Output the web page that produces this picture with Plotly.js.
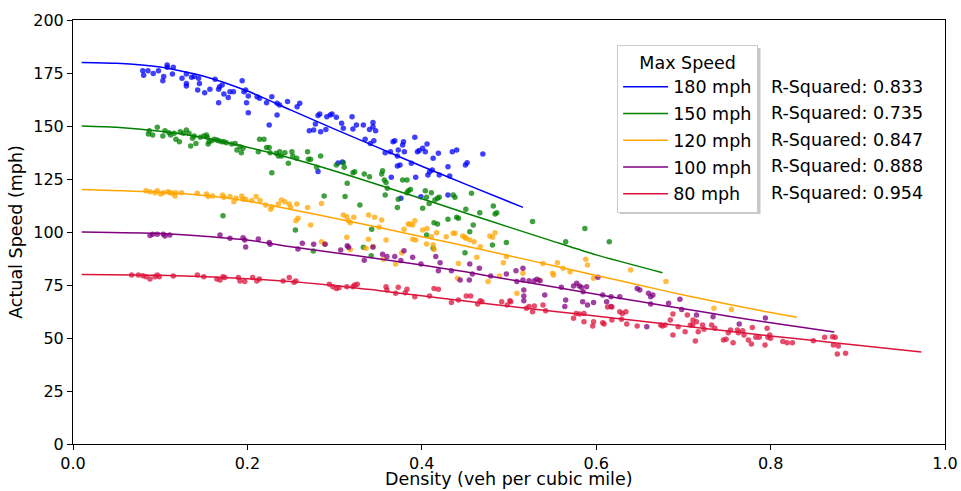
<!DOCTYPE html>
<html>
<head>
<meta charset="utf-8">
<script src="https://cdn.plot.ly/plotly-3.0.1.min.js"></script>
<style>html,body{margin:0;padding:0;background:#fff;}#chart{width:961px;height:491px;}</style>
</head>
<body>
<div id="chart"></div>
<script>
// ---- Data ----
const seriesNames = ["180 mph", "150 mph", "120 mph", "100 mph", "80 mph"];
const rSquared = ["0.833", "0.735", "0.847", "0.888", "0.954"];
const seriesColors = ["#0000ff", "#008000", "#ffa500", "#800080", "#dc143c"];
const xTitle = "Density (veh per cubic mile)";
const yTitle = "Actual Speed (mph)";

const blueDots = [
[0.080,176.1],[0.081,173.9],[0.086,176.1],[0.092,174.8],[0.098,176.1],[0.103,171.4],[0.104,173.3],[0.108,178.8],
[0.108,177.7],[0.115,177.7],[0.114,174.5],[0.125,172.5],[0.130,174.5],[0.130,170.1],[0.130,168.9],[0.136,173.0],
[0.139,173.3],[0.144,172.5],[0.145,170.1],[0.143,167.0],[0.151,165.7],[0.157,167.3],[0.163,172.0],[0.167,167.3],
[0.168,168.5],[0.171,169.3],[0.167,161.0],[0.173,165.1],[0.178,163.4],[0.180,166.2],[0.184,166.2],[0.194,171.4],
[0.196,166.2],[0.198,167.0],[0.201,164.2],[0.199,161.0],[0.201,156.3],[0.211,163.8],[0.214,163.1],[0.222,161.0],
[0.225,150.5],[0.228,163.8],[0.234,160.7],[0.234,155.2],[0.237,159.9],[0.246,161.5],[0.257,159.1],[0.260,160.7],
[0.271,147.8],[0.276,148.1],[0.278,150.9],[0.281,155.0],[0.283,155.7],[0.284,147.3],[0.290,148.4],[0.291,154.4],
[0.295,155.2],[0.297,155.7],[0.302,154.1],[0.308,151.3],[0.310,148.9],[0.320,154.4],[0.321,148.6],[0.325,150.5],
[0.333,150.5],[0.340,148.4],[0.281,128.5],[0.304,132.5],[0.309,133.0],[0.344,151.6],[0.344,149.7],[0.347,147.8],
[0.335,143.7],[0.341,141.8],[0.345,143.1],[0.358,137.4],[0.364,137.9],[0.367,142.6],[0.369,143.1],[0.373,138.7],
[0.379,142.6],[0.378,141.0],[0.380,137.9],[0.372,135.8],[0.372,131.1],[0.375,131.6],[0.388,132.4],[0.392,144.7],
[0.395,137.9],[0.397,138.4],[0.401,139.5],[0.404,137.9],[0.406,141.5],[0.413,134.8],[0.419,137.1],[0.393,125.8],
[0.407,126.9],[0.409,128.4],[0.412,129.2],[0.420,126.9],[0.430,130.8],[0.432,126.4],[0.435,137.9],[0.440,138.7],
[0.450,131.6],[0.452,132.7],[0.470,136.8],[0.376,115.9],[0.430,117.5],[0.365,125.8],[0.399,116.6]
];
const greenDots = [
[0.0875,147.8],[0.0864,146.2],[0.0914,145.8],[0.0967,149.4],[0.103,145.3],[0.1055,147.8],[0.110,146.8],[0.112,145.8],
[0.116,146.6],[0.118,143.7],[0.122,142.6],[0.123,147.3],[0.1265,146.6],[0.130,148.1],[0.133,146.6],[0.135,140.6],
[0.137,144.2],[0.139,145.3],[0.141,141.8],[0.146,144.7],[0.150,145.3],[0.153,145.8],[0.154,144.7],[0.156,142.6],
[0.155,141.5],[0.159,143.1],[0.162,143.7],[0.165,143.4],[0.167,143.1],[0.1705,142.6],[0.173,142.6],[0.176,142.1],
[0.182,141.5],[0.186,141.8],[0.188,138.7],[0.1915,140.2],[0.193,137.4],[0.195,139.5],[0.2125,137.9],[0.214,143.7],
[0.219,143.7],[0.222,139.9],[0.225,139.9],[0.226,137.4],[0.228,128.0],[0.233,137.1],[0.2355,135.8],[0.237,137.9],
[0.239,135.8],[0.243,137.4],[0.247,132.4],[0.251,137.9],[0.252,135.8],[0.2565,134.8],[0.269,137.9],[0.270,134.3],
[0.2725,134.3],[0.2795,130.5],[0.284,135.8],[0.288,117.0],[0.302,131.6],[0.310,132.7],[0.311,130.5],[0.312,116.7],
[0.3145,123.0],[0.321,128.0],[0.323,128.4],[0.329,112.7],[0.334,127.4],[0.340,126.1],[0.172,107.7],
[0.355,128.9],[0.354,127.4],[0.357,124.5],[0.359,123.3],[0.3605,120.6],[0.358,117.5],[0.373,115.4],[0.372,111.6],
[0.378,124.5],[0.383,124.5],[0.3845,119.5],[0.387,120.1],[0.383,118.5],[0.401,111.2],[0.404,119.5],[0.4055,116.4],
[0.411,118.5],[0.4085,113.5],[0.415,115.1],[0.418,115.9],[0.420,116.4],[0.430,106.0],[0.436,117.5],[0.438,116.4],
[0.440,106.9],[0.442,106.5],[0.4505,110.7],[0.457,118.3],[0.459,103.3],[0.455,100.1],[0.4665,109.1],[0.482,112.3],
[0.484,108.5],[0.486,109.1],[0.497,95.0],[0.481,93.9],[0.527,104.9],[0.565,95.4],[0.4055,98.6],[0.414,104.4],
[0.418,103.8],[0.413,92.3],[0.4495,90.2],[0.255,100.9],[0.3425,101.3],[0.333,92.8],[0.587,101.7],[0.615,95.4],
[0.2756,91.0],[0.342,88.8]
];
const orangeDots = [
[0.0837,119.5],[0.0883,119.0],[0.094,118.5],[0.0967,119.5],[0.1005,117.9],[0.1036,118.5],[0.109,119.0],[0.111,118.5],
[0.114,118.3],[0.117,117.0],[0.118,118.5],[0.1245,118.5],[0.1425,118.3],[0.153,117.9],[0.155,116.7],[0.160,117.0],
[0.1715,117.5],[0.173,116.4],[0.180,116.7],[0.1845,114.3],[0.187,115.9],[0.1935,117.0],[0.195,115.4],[0.198,115.4],
[0.205,114.8],[0.210,116.7],[0.2145,114.8],[0.221,112.7],[0.228,111.9],[0.2267,110.7],[0.2355,113.2],[0.239,115.1],
[0.243,114.3],[0.248,113.2],[0.2497,111.6],[0.2565,113.2],[0.258,106.5],[0.2557,105.3],[0.269,111.6],[0.2725,103.3],
[0.285,113.5],[0.310,108.0],[0.314,107.2],[0.316,105.3],[0.318,104.4],[0.322,106.9],[0.339,108.0],
[0.285,95.4],[0.289,94.3],[0.314,97.5],[0.318,91.8],[0.336,92.3],[0.3387,96.6],
[0.344,93.1],[0.346,106.9],[0.351,102.2],[0.354,105.7],[0.356,87.1],[0.359,96.2],[0.370,84.9],[0.377,90.2],
[0.3796,101.3],[0.3845,103.8],[0.3865,103.8],[0.3895,103.3],[0.392,105.3],[0.3895,96.6],[0.393,96.2],[0.401,100.9],
[0.4055,94.3],[0.406,101.7],[0.411,97.8],[0.413,93.9],[0.414,91.8],[0.417,99.7],[0.428,97.8],[0.436,99.4],
[0.438,99.4],[0.442,85.2],[0.447,98.1],[0.4495,97.5],[0.4507,97.0],[0.455,96.2],[0.460,95.4],[0.463,88.1],
[0.467,93.1],[0.478,98.1],[0.481,97.5],[0.484,99.7],[0.4935,85.5],[0.497,88.4],[0.489,79.2],[0.516,80.5],
[0.539,85.2],[0.550,80.5],[0.551,79.7],[0.5555,85.5],[0.562,82.9],[0.570,81.3],[0.588,87.1],[0.590,84.4],
[0.597,78.2],[0.6395,82.1],[0.680,76.6],[0.441,78.2],[0.476,76.6],[0.509,71.1],[0.535,77.4],[0.735,64.0],
[0.755,63.5]
];
const purpleDots = [
[0.0883,98.3],[0.0914,98.9],[0.0967,98.9],[0.1036,98.9],[0.1055,98.1],[0.111,98.6],[0.1686,98.6],[0.180,97.0],
[0.195,97.3],[0.198,92.9],[0.197,96.2],[0.2125,96.7],[0.225,95.1],[0.226,94.2],[0.258,92.0],[0.263,94.7],
[0.276,94.2],[0.289,94.2],[0.307,91.5],[0.3145,93.5],[0.316,92.8],[0.334,86.7],[0.344,92.9],[0.355,89.5],
[0.360,88.4],[0.369,88.4],[0.376,86.5],[0.3796,91.2],[0.3895,88.1],[0.399,84.9],[0.416,88.4],[0.421,85.5],
[0.419,81.7],[0.455,84.9],[0.4545,77.4],[0.458,80.2],[0.497,80.2],[0.508,81.7],[0.509,76.6],[0.516,82.9],
[0.516,77.4],[0.517,72.6],[0.517,69.8],[0.517,67.6],[0.523,77.0],[0.529,77.0],[0.532,77.7],[0.541,70.3],
[0.564,64.8],[0.565,67.9],[0.574,74.5],[0.5776,75.8],[0.5806,74.5],[0.583,73.9],[0.585,71.8],[0.589,74.2],
[0.5845,67.1],[0.590,65.6],[0.597,66.7],[0.602,78.6],[0.6075,70.3],[0.612,67.1],[0.617,64.8],[0.627,69.5],
[0.647,73.4],[0.650,72.6],[0.658,55.3],[0.660,71.1],[0.6625,69.5],[0.665,70.3],[0.696,68.3],[0.683,66.4],
[0.698,63.5],[0.715,60.8],[0.734,60.0],[0.764,56.6],[0.794,59.4],[0.617,69.5],[0.6625,66.0],[0.434,81.7],
[0.444,77.4],[0.466,82.9],[0.479,79.2],[0.5355,77.0],[0.560,73.9]
];
const redDots = [
[0.0673,79.7],[0.0749,79.7],[0.080,79.4],[0.0837,78.9],[0.0883,77.8],[0.094,78.9],[0.0967,79.7],[0.099,78.9],
[0.115,79.2],[0.1426,79.7],[0.150,78.9],[0.165,77.8],[0.1686,77.4],[0.172,78.9],[0.174,78.5],[0.1896,78.5],
[0.1915,76.9],[0.197,76.6],[0.206,78.5],[0.2107,76.9],[0.2137,77.8],[0.241,76.9],[0.248,78.5],[0.2534,76.3],
[0.2557,76.9],[0.294,75.3],[0.298,74.2],[0.302,73.4],[0.305,73.7],[0.314,74.2],[0.321,74.2],[0.323,75.0],
[0.326,75.3],[0.359,74.2],[0.360,72.6],[0.370,71.1],[0.373,73.9],[0.381,71.4],[0.383,73.0],[0.392,69.5],
[0.409,69.8],[0.414,73.4],[0.419,73.0],[0.434,66.7],[0.442,67.9],[0.451,69.8],[0.456,69.8],[0.464,66.0],
[0.467,67.6],[0.469,67.1],[0.4916,67.1],[0.498,65.6],[0.501,67.6],[0.502,67.1],[0.520,64.0],[0.523,64.8],
[0.527,62.4],[0.529,65.1],[0.539,65.6],[0.542,62.9],[0.574,59.3],[0.577,61.6],[0.581,61.3],[0.586,61.6],
[0.586,57.7],[0.596,55.7],[0.597,57.7],[0.6075,57.2],[0.609,56.6],[0.627,62.4],[0.630,61.6],[0.634,62.4],
[0.629,58.8],[0.635,56.6],[0.647,55.7],[0.674,56.1],[0.676,55.7],[0.679,56.1],[0.688,61.3],[0.688,51.4],
[0.694,55.3],[0.618,58.5],[0.613,64.6],[0.618,64.6],[0.685,58.5],
[0.702,53.0],[0.7045,60.8],[0.708,56.1],[0.711,58.5],[0.7107,56.1],[0.715,57.7],[0.7137,48.6],[0.717,53.0],
[0.722,56.1],[0.7236,54.1],[0.7324,56.1],[0.736,54.6],[0.746,49.1],[0.749,49.4],[0.7515,52.5],[0.754,53.8],
[0.757,47.8],[0.762,53.8],[0.763,52.5],[0.768,53.4],[0.7695,51.4],[0.7745,49.1],[0.778,47.2],[0.779,55.0],
[0.783,50.3],[0.787,50.3],[0.7936,46.7],[0.796,54.6],[0.797,50.3],[0.799,51.4],[0.800,49.9],[0.814,48.3],
[0.819,47.8],[0.825,47.8],[0.849,48.7],[0.862,50.3],[0.871,50.6],[0.874,50.3],[0.872,46.7],[0.8776,46.2],
[0.8765,42.5],[0.886,42.8]
];

// fitted curves
const blueFitX = [0.01,0.05,0.1,0.15,0.2,0.25,0.3,0.35,0.4,0.45,0.516];
const blueFitY = [180,179.6,177.8,173.5,166.5,157.5,148.5,139.8,131,122.6,111.6];
const greenFitX = [0.01,0.05,0.1,0.15,0.2,0.25,0.3,0.35,0.4,0.45,0.5,0.55,0.6,0.676];
const greenFitY = [150,149.4,147.5,144.5,140,134.8,128.8,122.3,115.7,109,102.3,95.7,89.2,80.8];
const orangeFitX = [0.01,0.1,0.15,0.2,0.25,0.3,0.35,0.4,0.45,0.5,0.55,0.6,0.65,0.7,0.75,0.8,0.83];
const orangeFitY = [120,118.7,117.2,114.6,110.6,106.5,102.2,97.8,93.4,88.8,84.2,79.5,74.9,70.3,66,62,59.8];
const purpleFitX = [0.01,0.1,0.15,0.2,0.25,0.3,0.352,0.4,0.45,0.5,0.55,0.6,0.65,0.7,0.75,0.8,0.873];
const purpleFitY = [100,99.3,98,96.2,93,90.2,87.3,84.4,81.2,77.6,74.2,70.6,67.2,63.8,60.4,57.2,52.8];
const redFitX = [0.01,0.1,0.2,0.3,0.35,0.4,0.45,0.5,0.55,0.604,0.65,0.7,0.75,0.8,0.85,0.9,0.973];
const redFitY = [80,79.6,78,74.8,72.4,69.9,67.4,65,62.6,60.2,58.0,55.6,53.3,51.0,48.8,46.6,43.4];

const xTicks = [0, 0.2, 0.4, 0.6, 0.8, 1.0];
const yTicks = [0, 25, 50, 75, 100, 125, 150, 175, 200];

// ---- Build traces ----
const dotSets = [blueDots, greenDots, orangeDots, purpleDots, redDots];
const fitSets = [[blueFitX, blueFitY],[greenFitX, greenFitY],[orangeFitX, orangeFitY],[purpleFitX, purpleFitY],[redFitX, redFitY]];
const traces = [];
dotSets.forEach((pts, i) => {
  traces.push({
    type: 'scatter', mode: 'markers',
    x: pts.map(p => p[0]), y: pts.map(p => p[1]),
    marker: {color: seriesColors[i], size: 5.5, opacity: 0.75, line: {width: 0}},
    showlegend: false, hoverinfo: 'skip'
  });
});
fitSets.forEach((f, i) => {
  traces.push({
    type: 'scatter', mode: 'lines',
    x: f[0], y: f[1], name: seriesNames[i],
    line: {color: seriesColors[i], width: 1.5, shape: 'spline', smoothing: 0.6},
    legendgroup: 'g' + i, showlegend: true
  });
});

const rowY = [0.842, 0.780, 0.717, 0.655, 0.593];
const annotations = rSquared.map((r, i) => ({
  xref: 'paper', yref: 'paper', x: 0.798, y: rowY[i], xanchor: 'left', yanchor: 'middle',
  text: 'R-Squared: ' + r, showarrow: false,
  font: {size: 17.5, color: '#000', family: 'DejaVu Sans'}
}));
// x-axis title, placed just below the tick labels
annotations.push({
  xref: 'paper', yref: 'paper', x: 0.5, y: -0.1085, xanchor: 'center', yanchor: 'bottom',
  text: xTitle, showarrow: false, borderpad: 0,
  font: {size: 17.5, color: '#000', family: 'DejaVu Sans'}
});

const axisCommon = {
  showgrid: false, zeroline: false, showline: true, mirror: true,
  linecolor: '#000', linewidth: 1, ticks: 'outside', ticklen: 5, tickcolor: '#000',
  tickfont: {size: 16, color: '#000', family: 'DejaVu Sans'}
};

const layout = {
  width: 961, height: 491,
  margin: {l: 73, r: 16, t: 20, b: 47},
  paper_bgcolor: '#fff', plot_bgcolor: '#fff',
  font: {family: 'DejaVu Sans', color: '#000', size: 16},
  xaxis: Object.assign({}, axisCommon, {
    range: [0, 1], tickvals: xTicks, tickformat: '.1f'
  }),
  yaxis: Object.assign({}, axisCommon, {
    range: [0, 200], tickvals: yTicks,
    title: {text: yTitle, font: {size: 17.5}, standoff: 6}
  }),
  legend: {
    x: 0.624, y: 0.941, xanchor: 'left', yanchor: 'top',
    bgcolor: '#fff', bordercolor: '#cccccc', borderwidth: 1,
    font: {size: 17.5, family: 'DejaVu Sans', color: '#000'},
    title: {text: 'Max Speed', side: 'top center', font: {size: 17.5}},
    traceorder: 'grouped', tracegroupgap: 1, itemwidth: 45
  },
  shapes: [{
    type: 'rect', xref: 'paper', yref: 'paper', layer: 'above',
    x0: 0.6273, x1: 0.7884, y0: 0.5425, y1: 0.934,
    fillcolor: 'rgba(0,0,0,0.22)', line: {width: 0}
  }],
  annotations: annotations,
  showlegend: true
};

Plotly.newPlot('chart', traces, layout, {displayModeBar: false, staticPlot: true});
</script>
</body>
</html>
